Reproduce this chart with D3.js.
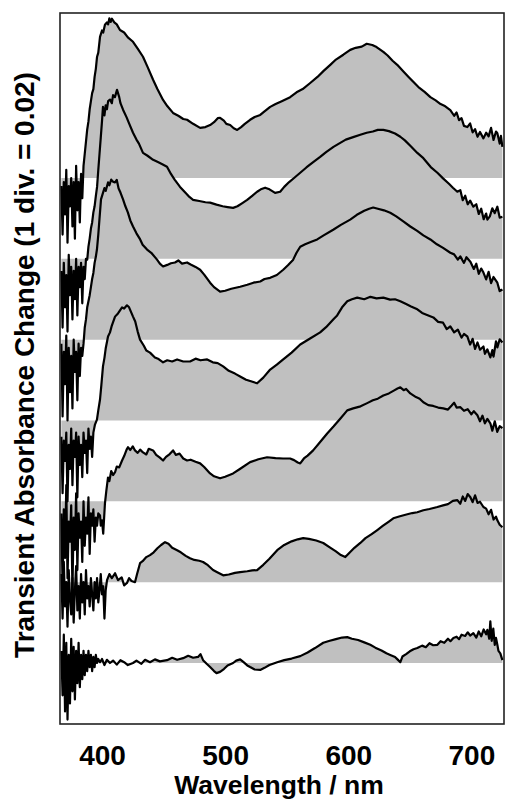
<!DOCTYPE html>
<html><head><meta charset="utf-8">
<script src="https://cdn.jsdelivr.net/npm/d3@7"></script>
<style>html,body{margin:0;padding:0;background:#fff;}svg{display:block;}</style>
</head><body>
<svg id="chart" width="507" height="800"></svg>
<script>
// Transient absorbance spectra (mOD, relative to each trace's own baseline); 1 div = 20 mOD
const trace1 = [[367,-2],[368,-14],[369,-1],[370,-9],[371,2],[372,-16],[373,-2],[374,-7],[375,0],[376,-12],[377,-1],[378,-15],[379,3],[380,-8],[381,-1],[382,-11],[383,1],[384,-5],[385,3],[386,6],[387,9],[388,12],[389,14],[390,17],[391,19],[392,21],[393,22],[394,25],[395,27],[396,30],[397,31],[398.4,34.9],[400,36.5],[401,36],[402.4,37.9],[404,38.5],[405,38],[406,39.5],[407,38.6],[408.1,39.4],[410,38.5],[412,38],[414.6,36.6],[418,36],[421,34.8],[425.2,33.7],[429,32],[433.3,30],[437,27.5],[441.5,24.3],[445,22],[449.6,19.3],[453,17.8],[457.7,16.1],[462,15.4],[466,14.6],[469.1,14.4],[474,13.4],[479.7,12.4],[484,12.6],[487.8,13.1],[491,13.8],[494,14.8],[495.9,14.9],[499,14.2],[501,13.4],[504.1,13.1],[507,12.3],[509.8,11.9],[513,12.6],[516,13.4],[520.3,14.4],[524,15.1],[528.5,15.6],[532,16.5],[536.6,17.6],[541,18.3],[546,19],[552.8,20],[558,21.2],[563,22],[569.1,23.5],[575,25],[580,26.5],[585.4,28],[590,29.3],[596,30.5],[601.6,31.7],[606,32.2],[611,32.5],[615,33.2],[619.5,32.9],[623,32.4],[628.5,31.2],[632,30.3],[636,29],[639.8,28],[645,26.3],[649,25],[652.8,23.8],[657,22.5],[662,21.3],[666.7,20],[671,19.2],[675,18.3],[678,17.9],[682.9,16.8],[686,15.4],[688,16.2],[690,14.3],[692,14.8],[694,12.9],[696.7,12.6],[699,13.5],[701,11.3],[703,12.1],[705,10.2],[707,11.4],[709.8,9.8],[712,11.2],[714,10.3],[716,12.4],[718,9.4],[720,11.5],[721.1,11.1],[723,8.5],[724,10.4],[725.2,7.7]];
const trace2 = [[367,-3],[368,-17],[369,-1],[370,-12],[371,-4],[372,-18],[373,1],[374,-9],[375,-2],[376,-15],[377,-3],[378,-10],[379,0],[380,-14],[381,-2],[382,-7],[383,-1],[384,-11],[385,-2],[386,-5],[387,0],[388,-0.2],[389,3],[390,5],[391,7.5],[392,9],[393,11.5],[394,13],[395,15.5],[396,17.8],[397,22],[398,26],[399,30],[400,34],[400.8,37.6],[402,35.5],[403,38],[404,37],[405,39],[406.5,39.4],[408,38.5],[409,40.5],[410.5,40],[412.2,41.8],[414,40],[415,38.5],[417.1,36.9],[420,35],[422,33.5],[425.2,31.2],[428,29.5],[430,28.5],[433.3,26.2],[437,25.5],[441.5,24.5],[445,24],[449,23.4],[452.8,22.8],[456,21],[459,19.6],[463.4,17.8],[468,16.3],[471,15.3],[474,14.6],[479,14.3],[484,14],[487.8,13.9],[493,13.4],[498,13],[502,12.8],[506.5,12.6],[510,13],[514,13.8],[517.9,14.6],[522,15.6],[526,16.6],[529,17.2],[532.5,17.6],[536,17.2],[540.6,16.3],[544.7,16.6],[548,17.8],[552,19],[556,20],[561,21.3],[566,22.6],[571,23.8],[577.2,25.2],[582,26.4],[588,27.7],[593.5,28.7],[598,29.5],[604,30.1],[609.8,30.7],[615,31.2],[620,31.5],[624,31.9],[628.5,31.9],[633,31.6],[638,31],[642.3,30.2],[646,29.3],[651,27.8],[656.1,26.2],[661,24.9],[667,22.7],[672.4,21.3],[677,19.9],[682,18.5],[685,17.6],[688.6,16.6],[691,17],[693,14.5],[695,15.6],[697,13.5],[699,14.4],[701.6,12.9],[704,13.5],[706,11.1],[708,12.4],[710,9.8],[712,11.2],[713,9.7],[715,10.5],[717,12.5],[719,11.3],[721.1,12.9],[723,10.2],[725.2,10.4]];
const trace3 = [[367,-1],[368,-19],[369,-3],[370,-11],[371,1],[372,-20],[373,-2],[374,-13],[375,-4],[376,-17],[377,0],[378,-8],[379,-3],[380,-15],[381,-1],[382,-9],[383,-2],[384,-4],[385,-1],[386,3],[387,5],[388,8],[389,9.5],[390,11],[391,13],[392,15],[393,16.5],[394,19],[395,20.5],[395.9,22.3],[397,26],[398,30],[399.2,34.7],[400.5,36],[402,37.5],[403,36.8],[404.9,38.9],[406,38.2],[407.5,39.6],[408.9,39.1],[410.6,38.9],[412,39.5],[413.5,37.4],[415,36.4],[417.1,34.7],[419,33],[421,31.5],[423,29.5],[425.2,28],[428,26.3],[431,24.8],[433,23.5],[436.6,22.3],[440,21.5],[444.7,19.8],[447,18.8],[449.6,18.1],[453,18.5],[456,18.9],[459.3,19.1],[462,19.6],[465,18.8],[469.1,19.1],[472,18.6],[476,18],[479.7,17.3],[483,16.1],[487.8,14.1],[491,13],[495.9,11.9],[500,12.1],[505,12.6],[512.2,13.1],[518,13.6],[523,14.1],[528.5,14.4],[532,15],[536.6,15.3],[542,16],[547.2,17.3],[551,18.4],[555.3,19.8],[558,21.5],[561,23],[565,23.6],[570,24.2],[574.8,24.8],[580,25.8],[587.8,27.2],[594,28.4],[601.6,29.7],[607,30.9],[613,31.9],[617,32.4],[620.3,32.7],[624,32.4],[629,32],[634.1,31.4],[639,30.5],[645,29.2],[650.4,28],[656,26.9],[661,25.8],[666.7,24.8],[672,23.6],[677,22.7],[682.9,21.5],[686,21.1],[689,19.8],[691,20.6],[694,19],[696,20.4],[699.2,19.3],[702,17.5],[704,18.8],[706,16.3],[708,17.6],[709.8,16.6],[712,14.9],[714,16.8],[716,14],[718,15.5],[721.1,14.1],[723,12],[725.2,12.4]];
const trace4 = [[367,-4],[368,-18],[369,-5],[370,-10],[371,-3],[372,-20],[373,-6],[374,-12],[375,-2],[376,-16],[377,-5],[378,-9],[379,-3],[380,-19],[381,-4],[382,-11],[383,-6],[384,-14],[385,-3],[386,-8],[387,-5],[388,-13],[389,-2],[390,-7],[391,-4],[392,-9],[393,-3],[394.3,-1],[395.9,0.2],[397,2.5],[398.4,5.2],[399.5,8.8],[400.8,13.4],[402,15.5],[403,17.8],[404.9,20.8],[406.5,21.8],[408,23.5],[410.6,25.7],[413,26.5],[416.3,28],[418,27.7],[420.3,28.5],[422,28],[425.2,25.7],[427,24.5],[429,22],[430.9,20],[434,18.5],[436,17.3],[439,16.8],[443,15.6],[446,15.2],[449.6,14.4],[453,14.9],[457,14.6],[461,15.1],[466,14.6],[471.5,14.6],[476,15.3],[480,14.9],[485.4,15.1],[490,14.4],[494,14.2],[498.4,13.4],[503,12.3],[508,11.6],[512.2,10.9],[517,10.1],[521,9.7],[526,9.2],[531,10.6],[536.6,12.6],[542,13.8],[547.2,15.1],[554,16.8],[561,18.8],[569,20.3],[577.2,21.8],[582,23.1],[587.8,25],[591,26],[595,28],[599.2,29.5],[603,30],[607.3,30.4],[613,30],[618,30.6],[623,30.2],[628.5,30.4],[634,29.9],[638,30],[642.3,29.5],[647,28.8],[651,28.2],[656.1,27.5],[660,26.6],[664,26.1],[669.1,25.5],[673,24.4],[677,24.2],[680,22.6],[682.9,23.3],[686,21.8],[689,22.5],[692,20.5],[694,21.4],[696.7,20.8],[699,18.8],[701,20.2],[703,17.7],[705,19.3],[707,17.5],[709.8,18.3],[711,16.5],[713,17.6],[715.4,15.6],[717,17.4],[718,15.8],[720,19.6],[721.1,18.1],[723,20.1],[725.2,19.3]];
const trace5 = [[367,-3],[368,-21],[369,-2],[370,-14],[371,4],[372,-19],[373,-5],[374,-10],[375,-1],[376,-22],[377,-4],[378,-12],[379,2],[380,-17],[381,-3],[382,-9],[383,-5],[384,-15],[385,0],[386,-11],[387,-4],[388,-8],[389,1],[390,-13],[391,-3],[392,-6],[393,-2],[394,-10],[395,-4],[396,-6],[397,-3],[398.4,-3.5],[399,-6],[400,-4.7],[401,-8],[402.4,-0.5],[403.5,2.5],[404.9,5.9],[406,5],[407.5,7.5],[409,6.5],[410.6,7.2],[412,8.6],[414,8.4],[416.3,10.1],[418,11.2],[420,12.8],[421.1,13.4],[423,12.7],[425,13.6],[426.8,12.6],[429,12],[431,12.8],[433.3,12.1],[436,11.6],[438,13],[441.5,12.6],[444,11.5],[447,10.8],[449.6,10.1],[452,11],[455,11.7],[457.7,12.6],[460,11.5],[463,11.8],[466,10.6],[469.1,10.1],[472,10.3],[476,9.8],[479.7,9.4],[483,8.5],[487.8,6.9],[491,6.2],[495.9,5.7],[500,6.1],[506.5,6.9],[512,8],[520.3,9.7],[527,10.4],[534.1,10.9],[541,10.7],[547,10.6],[552.8,10.6],[556,10.2],[559,9.6],[561,9.4],[564,10.6],[567,11.3],[571.5,12.6],[577,14.6],[582.9,16.8],[588,18.5],[594,20.6],[599.2,22.5],[604,23],[610,23.5],[615.4,24.3],[620,25],[624,25.4],[628.5,26.2],[633,26.7],[637,27.4],[640,27.9],[642.3,28.2],[645,27.5],[647,27.8],[650.4,26.7],[655,25.8],[658,25.4],[661,24.5],[665,23.8],[669,23.6],[673,23.2],[677.2,23],[681,22.7],[684,23.7],[686,24.4],[688,23.2],[691.1,23.3],[694,22.4],[697,22.8],[700,21.5],[702,22.3],[704.9,21.3],[707,19.8],[709,21.2],[711,19.3],[713,20.4],[715.4,19.3],[717,17.5],[719,19.8],[721,17.2],[723,18.6],[725.2,18.1]];
const trace6 = [[367,2],[368,-9],[369,5],[370,-6],[371,0],[372,-11],[373,3],[374,-4],[375,-8],[376,1],[377,-10],[378,-2],[379,4],[380,-7],[381,-1],[382,-9],[383,2],[384,-5],[385,0],[386,-8],[387,3],[388,-4],[389,-1],[390,-6],[391,1],[392,-3],[393,-7],[394,0],[395,-4],[396,1],[397,-5],[398,-2],[399,2],[400,-3],[401,-1],[402,-9],[403,-2],[404.1,0.5],[406,2],[408,1],[410.6,2.2],[413,0.5],[416,1.2],[418,-0.8],[420.3,-0.2],[422,1],[424,0.3],[426.8,0],[428.5,2],[430.9,4.7],[433,5.2],[436,6.2],[439,6.7],[442,7.4],[445,8.4],[448,9.2],[451.2,9.9],[454,9.5],[457,8.5],[461,7.9],[464,7.4],[468,6.5],[471.5,5.9],[475,5.5],[479,5.3],[482.1,5],[486,4.2],[490.2,3],[494,2.4],[498.4,1.7],[503,1.9],[508,2.3],[512.2,2.5],[518,2.7],[522,2.9],[526,3],[531,4.3],[536,5.8],[542.3,7.9],[548,9.2],[554,10.1],[559,10.6],[563.4,10.9],[568,10.7],[574,10.3],[579.7,9.7],[585,8.6],[590,7.6],[594,6.7],[597.6,6.2],[601,7.3],[605,8.5],[609.8,9.7],[614,10.9],[619,11.9],[623.6,12.9],[628,13.9],[633,15],[636.6,15.8],[642,16.3],[648,16.8],[652,17.1],[656.1,17.3],[661,17.8],[666,18.1],[672.4,18.6],[677,19],[681,19.3],[685,20.1],[688.6,20.3],[691,19.4],[693,21.2],[695,20.1],[697,21.8],[699.2,21],[701,19.8],[703,21.5],[705,19.6],[707,19.9],[709.8,18.6],[712,18.2],[714,16.8],[716,17.9],[718,15.5],[720,16.2],[721.1,15.3],[723,14.2],[725.2,13.6]];
const trace7 = [[367,3],[368,-8],[369,7],[370,-12],[371,5],[372,-14],[373,2],[374,-10],[375,6],[376,-7],[377,4],[378,-9],[379,3],[380,-5],[381,5],[382,-6],[383,2],[384,-4],[385,3],[386,-3],[387,2],[388,-2],[389,3],[390,-1],[391,2],[392,-2],[393,1.5],[394,-1],[395,2],[396,0],[397,1],[398.4,0.2],[400,1],[402,-0.5],[404,0.8],[406.5,0],[409,0.6],[412,-0.4],[415,0.7],[418,0.2],[421,-0.5],[425.2,0],[428,0.6],[432,-0.2],[435,0.8],[439,0.2],[443,0.9],[447,0.4],[452.8,0.7],[457,1.3],[461,0.8],[465.9,1.2],[470,1.8],[474,1.3],[478,1.5],[480,2.2],[482.1,0.7],[485,-0.2],[487.8,-1],[491,-2],[493,-2.5],[495.9,-2.2],[499,-1.5],[502,-0.6],[506.5,0],[509,0.6],[512.2,0.9],[515,0.2],[518,-0.6],[520.3,-1],[524,-1.6],[528.5,-1.7],[532,-1.2],[536,-0.5],[542.3,0.2],[548,0.7],[554,1.1],[561,1.7],[567,2.6],[573,3.7],[579.7,5],[585,5.5],[590,5.9],[595,6.3],[599.2,6.4],[603,6],[608,5.7],[613,5.1],[617.9,4.5],[622,3.8],[627,3.1],[631,2.4],[634.1,2],[638,1.5],[640,0.9],[642.3,0.2],[644,1.6],[647,2.2],[650,2.9],[653,3.4],[656.1,3.7],[660,4.3],[663,3.9],[666,4.9],[669,4.4],[672.4,4.5],[675,5.4],[678,5],[681,6],[683,5.4],[685.4,6.2],[688,6.5],[690,5.9],[692,7],[695,6.7],[697,7.6],[699,6.8],[701.6,7.4],[704,6.3],[706,7.8],[708,6.6],[710,8.3],[712,7.1],[713,8.2],[714.5,6],[715.4,10.3],[716.5,5.5],[717.8,8.5],[719,4.5],[720,6.2],[721.1,4.5],[722,3],[723.5,2.4],[725.2,0.7]];

const traces = [trace1, trace2, trace3, trace4, trace5, trace6, trace7];
const offsets = [120, 100, 80, 60, 40, 20, 0];   // stacking offsets, mOD (1 div = 20 mOD = 0.02)
const xTicks = [400, 500, 600, 700];
const xTitle = "Wavelength / nm";
const yTitle = "Transient Absorbance Change (1 div. = 0.02)";

const svg = d3.select("#chart");
const L = 60, R = 504, T = 13, B = 724;
const x = d3.scaleLinear().domain([365.9, 726.5]).range([L, R]);
const y = d3.scaleLinear().domain([-15.09, 160.82]).range([B, T]);

svg.append("clipPath").attr("id", "plotclip")
  .append("rect").attr("x", L).attr("y", T).attr("width", R - L).attr("height", B - T);

const g = svg.append("g").attr("clip-path", "url(#plotclip)");

traces.forEach((tr, i) => {
  const off = offsets[i];
  const area = d3.area().x(d => x(d[0])).y0(y(off)).y1(d => y(off + d[1]));
  g.append("path").attr("d", area(tr)).attr("fill", "#c0c0c0").attr("stroke", "none");
});
traces.forEach((tr, i) => {
  const off = offsets[i];
  const line = d3.line().x(d => x(d[0])).y(d => y(off + d[1]));
  g.append("path").attr("d", line(tr)).attr("fill", "none")
    .attr("stroke", "#000").attr("stroke-width", 2.2).attr("stroke-linejoin", "round");
});

// frame
svg.append("rect").attr("x", L).attr("y", T).attr("width", R - L).attr("height", B - T)
  .attr("fill", "none").attr("stroke", "#222").attr("stroke-width", 1.6);

// x axis labels
const xAxis = d3.axisBottom(x).tickValues(xTicks).tickSize(0).tickPadding(21).tickFormat(d3.format("d"));
const ax = svg.append("g").attr("transform", `translate(0,${B})`).call(xAxis);
ax.select(".domain").remove();
ax.selectAll("text").attr("font-family", "Liberation Sans, Arial, sans-serif")
  .attr("font-weight", "bold").attr("font-size", 28).attr("fill", "#000");

svg.append("text").attr("x", 279).attr("y", 794).attr("text-anchor", "middle")
  .attr("font-family", "Liberation Sans, Arial, sans-serif").attr("font-weight", "bold")
  .attr("font-size", 26.5).attr("fill", "#000").text(xTitle);

svg.append("text").attr("transform", "translate(34,365) rotate(-90)").attr("text-anchor", "middle")
  .attr("font-family", "Liberation Sans, Arial, sans-serif").attr("font-weight", "bold")
  .attr("font-size", 28).attr("fill", "#000").text(yTitle);
</script>
</body></html>
